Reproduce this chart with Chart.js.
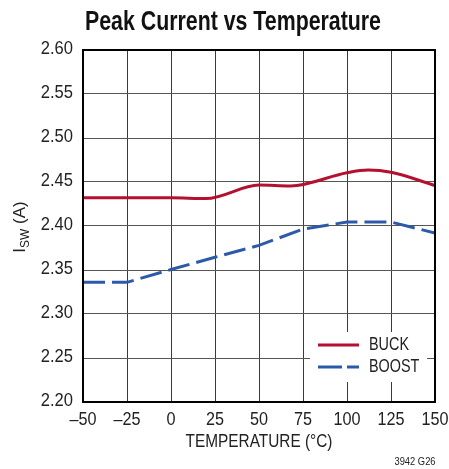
<!DOCTYPE html>
<html><head><meta charset="utf-8">
<script src="https://cdn.jsdelivr.net/npm/chart.js@4.4.1/dist/chart.umd.min.js"></script>
<style>html,body{margin:0;padding:0;background:#fff}canvas{display:block}</style>
</head><body>
<canvas id="c" width="449" height="469"></canvas>
<script>
// ---- data ----
const chartTitle = 'Peak Current vs Temperature';
const xTitle = 'TEMPERATURE (°C)';
const footnote = '3942 G26';
const seriesNames = ['BUCK', 'BOOST'];
const buckTemp = [-50, -25, 0, 20, 50, 68, 100, 112, 125, 150];
const buckCurrent = [2.432, 2.432, 2.432, 2.4312, 2.4465, 2.4455, 2.4605, 2.4635, 2.461, 2.446];
const boostTemp = [-50, -25, 0, 25, 50, 75, 100, 125, 150];
const boostCurrent = [2.336, 2.336, 2.3505, 2.3645, 2.378, 2.3965, 2.4045, 2.4045, 2.392];
const xMin = -50, xMax = 150, xStep = 25;
const yMin = 2.20, yMax = 2.60, yStep = 0.05;

const FONT = "'Liberation Sans',Arial,sans-serif";
const RED = '#b3112f', BLUE = '#2c5aa9';

// draw text horizontally condensed (mimics a condensed face)
function txt(ctx, s, x, y, font, align, baseline, sx, color) {
  ctx.save();
  ctx.font = font; ctx.textAlign = align; ctx.textBaseline = baseline;
  ctx.fillStyle = color || '#222';
  ctx.translate(x, y); ctx.scale(sx, 1);
  ctx.fillText(s, 0, 0);
  ctx.restore();
}

const extras = {
  id: 'extras',
  afterDatasetsDraw(chart) {
    const ctx = chart.ctx, a = chart.chartArea;
    ctx.save();
    const bx = a.right - 125, by = a.bottom - 70;
    ctx.fillStyle = '#fff';
    ctx.fillRect(bx, by, 117, 50);
    ctx.lineWidth = 3;
    ctx.strokeStyle = RED;
    ctx.beginPath(); ctx.moveTo(bx + 8, by + 13); ctx.lineTo(bx + 49, by + 13); ctx.stroke();
    ctx.strokeStyle = BLUE;
    ctx.setLineDash([24, 5]);
    ctx.beginPath(); ctx.moveTo(bx + 8, by + 35); ctx.lineTo(bx + 49, by + 35); ctx.stroke();
    ctx.setLineDash([]);
    ctx.restore();
    txt(ctx, seriesNames[0], bx + 59, by + 13, '18px ' + FONT, 'left', 'middle', 0.8);
    txt(ctx, seriesNames[1], bx + 59, by + 35, '18px ' + FONT, 'left', 'middle', 0.8);
  },
  afterDraw(chart) {
    const ctx = chart.ctx, a = chart.chartArea;
    ctx.save();
    ctx.strokeStyle = '#000'; ctx.lineWidth = 2;
    ctx.strokeRect(a.left, a.top, a.right - a.left, a.bottom - a.top);
    ctx.restore();
    // tick labels from the library's scales
    const xs = chart.scales.x, ys = chart.scales.y;
    xs.ticks.forEach(t => {
      const s = String(t.value).replace('-', '\u2013');
      txt(ctx, s, xs.getPixelForValue(t.value), a.bottom + 18, '18px ' + FONT, 'center', 'middle', 0.9);
    });
    ys.ticks.forEach(t => {
      txt(ctx, Number(t.value).toFixed(2), a.left - 10, ys.getPixelForValue(t.value) - 1, '18px ' + FONT, 'right', 'middle', 0.92);
    });
    // title
    txt(ctx, chartTitle, 233, 30, 'bold 27px ' + FONT, 'center', 'alphabetic', 0.79, '#111');
    // x title
    txt(ctx, xTitle, (a.left + a.right) / 2, 442, '19px ' + FONT, 'center', 'middle', 0.81);
    // footnote
    txt(ctx, footnote, 415, 462, '11px ' + FONT, 'center', 'middle', 0.85);
    // y title with subscript
    ctx.save();
    ctx.fillStyle = '#222';
    ctx.translate(25, 227);
    ctx.rotate(-Math.PI / 2);
    ctx.textAlign = 'left'; ctx.textBaseline = 'alphabetic';
    const big = '17px ' + FONT, small = '12px ' + FONT;
    ctx.font = big; const w1 = ctx.measureText('I').width;
    ctx.font = small; const w2 = ctx.measureText('SW').width;
    ctx.font = big; const w3 = ctx.measureText(' (A)').width;
    let x = -(w1 + w2 + w3) / 2;
    ctx.font = big; ctx.fillText('I', x, 0); x += w1;
    ctx.font = small; ctx.fillText('SW', x, 4); x += w2;
    ctx.font = big; ctx.fillText(' (A)', x, 0);
    ctx.restore();
  }
};

new Chart(document.getElementById('c'), {
  type: 'line',
  data: {
    datasets: [
      {
        label: seriesNames[0],
        data: buckTemp.map((t, i) => ({ x: t, y: buckCurrent[i] })),
        borderColor: RED, borderWidth: 3, pointRadius: 0,
        cubicInterpolationMode: 'monotone', fill: false
      },
      {
        label: seriesNames[1],
        data: boostTemp.map((t, i) => ({ x: t, y: boostCurrent[i] })),
        borderColor: BLUE, borderWidth: 3, pointRadius: 0,
        borderDash: [22, 7], tension: 0, fill: false
      }
    ]
  },
  options: {
    responsive: false, animation: false, devicePixelRatio: 1,
    layout: { padding: { left: 0, right: 14, top: 50, bottom: 0 } },
    plugins: { legend: { display: false }, tooltip: { enabled: false }, title: { display: false } },
    scales: {
      x: {
        type: 'linear', min: xMin, max: xMax,
        afterFit(s) { s.height = 67; },
        ticks: { stepSize: xStep, display: false },
        grid: { color: '#3a3a3a', lineWidth: 1, drawTicks: false },
        border: { color: '#000', width: 2 }
      },
      y: {
        min: yMin, max: yMax,
        afterFit(s) { s.width = 83; },
        ticks: { stepSize: yStep, display: false },
        grid: { color: '#555', lineWidth: 1, drawTicks: false },
        border: { color: '#000', width: 2 }
      }
    }
  },
  plugins: [extras]
});
</script>
</body></html>
